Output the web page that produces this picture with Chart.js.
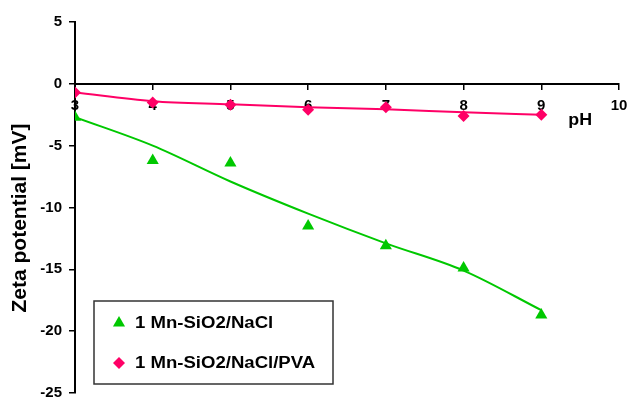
<!DOCTYPE html>
<html>
<head>
<meta charset="utf-8">
<script src="https://cdn.jsdelivr.net/npm/chart.js@4"></script>
<style>
  html, body { margin: 0; padding: 0; background: #fff; overflow: hidden; }
  #wrap { width: 630px; height: 400px; }
</style>
</head>
<body>
<div id="wrap"><canvas id="zeta"></canvas></div>
<script>
// measured points
const phValues = [3, 4, 5, 6, 7, 8, 9];
const zetaNaCl = [-2.7, -6.2, -6.4, -11.5, -13.1, -14.9, -18.7];
const zetaPVA = [-0.7, -1.5, -1.7, -2.1, -1.9, -2.6, -2.5];
// trend lines at each pH
const trendNaCl = [-2.7, -5.0, -7.9, -10.5, -12.9, -15.1, -18.3];
const trendPVA = [-0.7, -1.4, -1.65, -1.9, -2.05, -2.3, -2.5];

const labelNaCl = "1 Mn-SiO2/NaCl";
const labelPVA = "1 Mn-SiO2/NaCl/PVA";
const green = "#00C800";
const pink = "#FF0066";
const fontFam = "'Liberation Sans', Arial, sans-serif";

function pts(xs, ys) {
  return xs.map((x, i) => ({ x: x, y: ys[i] }));
}

// text a bit wider than the font, like the original picture
function wideText(ctx, text, x, y, sx) {
  ctx.save();
  ctx.translate(x, y);
  ctx.scale(sx, 1);
  ctx.fillText(text, 0, 0);
  ctx.restore();
}

// legend box and axis titles drawn on the canvas
const extras = {
  id: "extras",
  afterDraw(chart) {
    const ctx = chart.ctx;
    const xs = chart.scales.x, ys = chart.scales.y;
    ctx.save();
    ctx.fillStyle = "#000";
    ctx.textAlign = "center";
    ctx.textBaseline = "middle";

    ctx.font = "bold 17px " + fontFam;
    wideText(ctx, "pH", xs.getPixelForValue(9.5), ys.getPixelForValue(-2.95), 1.05);

    // y title
    ctx.save();
    ctx.translate(20, 218);
    ctx.rotate(-Math.PI / 2);
    ctx.font = "bold 21px " + fontFam;
    ctx.fillText("Zeta potential [mV]", 0, 0);
    ctx.restore();

    ctx.strokeStyle = "#333";
    ctx.lineWidth = 1.5;
    ctx.strokeRect(94, 301, 239, 83);
    const rows = [
      { text: labelNaCl, style: "triangle", r: 7, color: green, y: 323 },
      { text: labelPVA, style: "rectRot", r: 6, color: pink, y: 363 }
    ];
    ctx.textAlign = "left";
    ctx.font = "bold 16px " + fontFam;
    rows.forEach(row => {
      ctx.fillStyle = row.color;
      Chart.helpers.drawPoint(ctx, { pointStyle: row.style, radius: row.r, rotation: 0, borderWidth: 0 }, 119, row.y);
      ctx.fillStyle = "#000";
      wideText(ctx, row.text, 135, row.y + 1, 1.16);
    });
    ctx.restore();
  }
};

new Chart("zeta", {
  type: "scatter",
  data: {
    datasets: [
      {
        label: labelNaCl,
        data: pts(phValues, zetaNaCl),
        pointStyle: "triangle",
        pointRadius: 7,
        backgroundColor: green,
        borderColor: green,
        borderWidth: 0,
        showLine: false
      },
      {
        label: labelPVA,
        data: pts(phValues, zetaPVA),
        pointStyle: "rectRot",
        pointRadius: 6,
        backgroundColor: pink,
        borderColor: pink,
        borderWidth: 0,
        showLine: false
      },
      {
        label: "trend NaCl",
        data: pts(phValues, trendNaCl),
        showLine: true,
        pointRadius: 0,
        borderColor: green,
        borderWidth: 2,
        cubicInterpolationMode: "monotone"
      },
      {
        label: "trend PVA",
        data: pts(phValues, trendPVA),
        showLine: true,
        pointRadius: 0,
        borderColor: pink,
        borderWidth: 2,
        cubicInterpolationMode: "monotone"
      }
    ]
  },
  options: {
    responsive: true,
    maintainAspectRatio: false,
    animation: false,
    layout: { padding: { left: 0, right: 11, top: 22, bottom: 1 } },
    plugins: {
      legend: { display: false },
      tooltip: { enabled: false }
    },
    scales: {
      x: {
        type: "linear",
        position: { y: 0 },
        min: 3,
        max: 10,
        afterFit(scale) { scale.paddingLeft = 0; scale.paddingRight = 0; },
        grid: { drawOnChartArea: false, drawTicks: true, tickLength: 5, color: "#000", lineWidth: 1.5 },
        border: { color: "#000", width: 2 },
        ticks: {
          stepSize: 1,
          autoSkip: false,
          padding: 8,
          color: "#000",
          font: { family: fontFam, size: 15, weight: "bold" }
        }
      },
      y: {
        min: -25,
        max: 5,
        afterFit(scale) {
          scale.width = 75;
          scale.paddingTop = 0;
          scale.paddingBottom = 0;
        },
        grid: { drawOnChartArea: false, drawTicks: true, tickLength: 6, color: "#000", lineWidth: 1.5 },
        border: { color: "#000", width: 2 },
        ticks: {
          stepSize: 5,
          padding: 7,
          color: "#000",
          font: { family: fontFam, size: 15, weight: "bold" }
        }
      }
    }
  },
  plugins: [extras]
});
</script>
</body>
</html>
